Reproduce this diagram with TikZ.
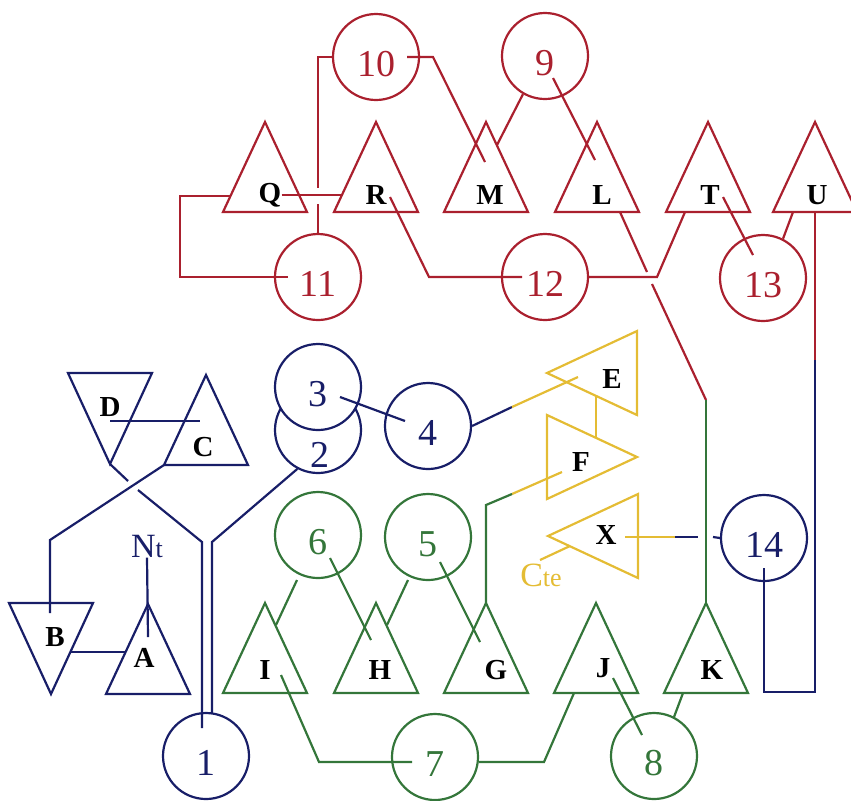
\documentclass[tikz,border=0pt]{standalone}
\usepackage{fontspec}
\setmainfont{Liberation Serif}
\usetikzlibrary{calc}
\definecolor{netred}{RGB}{170,32,46}
\definecolor{netblue}{RGB}{24,30,104}
\definecolor{netgreen}{RGB}{52,118,58}
\definecolor{netyellow}{RGB}{228,188,52}
\tikzstyle{wire}=[line width=1.1pt]
\tikzstyle{num}=[circle, draw, line width=1.1pt, minimum size=43pt, inner sep=0pt, font=\fontsize{19}{19}\selectfont, text height=19pt, text depth=0pt]
\tikzstyle{numtxt}=[inner sep=0pt, font=\fontsize{19}{19}\selectfont]
\tikzstyle{tri}=[line width=1.1pt, line join=miter]
\tikzstyle{tlabel}=[inner sep=0pt, font=\fontsize{14.5}{14.5}\selectfont\bfseries]
\tikzstyle{sublabel}=[inner sep=0pt, font=\fontsize{17}{17}\selectfont]

\begin{document}
\begin{tikzpicture}[x=0.5pt,y=-0.5pt]
\useasboundingbox (0,0) rectangle (851,800);

\foreach \x/\y/\col in {265/122/netred, 376/122/netred, 486/122/netred, 597/122/netred, 708/122/netred, 815/122/netred,
  206/375/netblue, 148/604/netblue,
  265/603/netgreen, 376/603/netgreen, 486/603/netgreen, 596/603/netgreen, 706/603/netgreen}
 \draw[tri,\col] (\x,\y) -- (\x+42,\y+90) -- (\x-42,\y+90) -- cycle;
\foreach \x/\y in {110/373, 51/603}
 \draw[tri,netblue] (\x-42,\y) -- (\x+42,\y) -- (\x,\y+91) -- cycle;
\foreach \x/\y in {547/373, 548/536}
 \draw[tri,netyellow] (\x,\y) -- (\x+90,\y-42) -- (\x+90,\y+42) -- cycle;
\draw[tri,netyellow] (637,457) -- (547,415) -- (547,499) -- cycle;

\foreach \n/\x/\y in {Q/270/195, R/376/195, M/490/195, L/602/195, T/710/195, U/817/195,
  D/110/407, C/203/447, B/55/637, A/144/658, E/612/379, F/581/462, X/606/535,
  I/265/670, H/380/670, G/496/670, J/603/668, K/712/670}
 \node[tlabel] (\n) at (\x,\y) {\n};
\node[sublabel,netblue] (Nt) at (147,546) {N{\fontsize{13}{13}\selectfont t}};
\node[sublabel,netyellow] (Cte) at (541,575) {C{\fontsize{13}{13}\selectfont te}};

\node[num,netred] (c10) at (376,57) {10};
\node[num,netred] (c9) at (545,56) {9};
\node[num,netred] (c11) at (318,277) {11};
\node[num,netred] (c12) at (545,277) {12};
\node[num,netred] (c13) at (763,278) {13};
\node[num,netblue] (c2) at (318,430) {};
\node[numtxt,netblue] (n2) at (320,455) {2};
\node[num,netblue,fill=white] (c3) at (318,387) {3};
\node[num,netblue] (c4) at (428,426) {4};
\node[num,netblue] (c14) at (764,538) {14};
\node[num,netblue] (c1) at (206,756) {1};
\node[num,netgreen] (c6) at (318,535) {6};
\node[num,netgreen] (c5) at (428,537) {5};
\node[num,netgreen] (c7) at (435,757) {7};
\node[num,netgreen] (c8) at (654,756) {8};

\begin{scope}[wire,netred]
\draw (c10.west) -- (318,57) -- (318,188);
\draw (318,204) -- (c11.north);
\draw (Q.east) -- (342,195);
\draw (407,57) -- (433,57) -- (485,162);
\draw (c9.240) -- (497,145);
\draw (553,78) -- (595,160);
\draw (230,196) -- (180,196) -- (180,277) -- (288,277);
\draw (390,197) -- (429,277) -- (522,277);
\draw (c12.east) -- (657,277) -- (685,212);
\draw (620,212) -- (647,272);
\draw (652,284) -- (706,400);
\draw (723,197) -- (753,255);
\draw (c13.63) -- (793,212);
\draw (815,212) -- (815,360);
\end{scope}

\begin{scope}[wire,netblue]
\draw (110,421) -- (200,421);
\draw (110,464) -- (128,481);
\draw (138,490) -- (202,542) -- (202,728);
\draw (164,465) -- (50,540) -- (50,613);
\draw (c2.242) -- (212,542) -- (212,713);
\draw (70,652) -- (126,652);
\draw (Nt.south) -- (148,637);
\draw (340,397) -- (405,421);
\draw (c4.east) -- (512,407);
\draw (675,537) -- (698,537);
\draw (713,537) -- (c14.west);
\draw (815,360) -- (815,692) -- (764,692) -- (764,568);
\end{scope}

\begin{scope}[wire,netyellow]
\draw (512,407) -- (578,377);
\draw (596,396) -- (596,437);
\draw (562,472) -- (512,494);
\draw (625,537) -- (675,537);
\draw (540,560) -- (570,546);
\end{scope}

\begin{scope}[wire,netgreen]
\draw (706,400) -- (706,603);
\draw (512,494) -- (486,505) -- (486,603);
\draw (297,580) -- (276,625);
\draw (330,558) -- (371,640);
\draw (408,580) -- (387,625);
\draw (440,562) -- (480,642);
\draw (281,675) -- (319,762) -- (412,762);
\draw (c7.east |- 0,762) -- (544,762) -- (574,693);
\draw (613,678) -- (642,735);
\draw (674,717) -- (683,693);
\end{scope}
\end{tikzpicture}
\end{document}
